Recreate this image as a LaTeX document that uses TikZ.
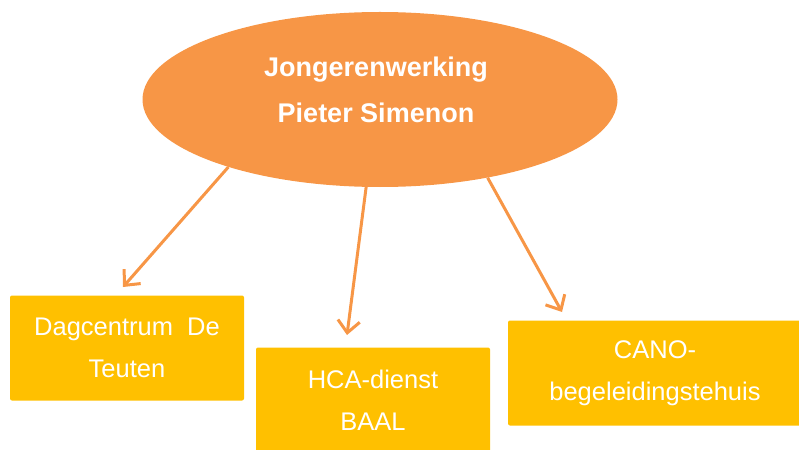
\documentclass[tikz,border=0pt]{standalone}
\usepackage{fontspec}
\setmainfont{Liberation Sans}
\usetikzlibrary{arrows.meta,shapes.geometric}
\definecolor{oranje}{HTML}{F79646}
\definecolor{geel}{HTML}{FFC000}
\tikzset{
  wolk/.style={ellipse,fill=oranje,draw=none,minimum width=475pt,minimum height=175pt,inner sep=0pt},
  titel/.style={align=center,text=white,font=\bfseries\fontsize{27}{46}\selectfont},
  blok/.style={rectangle,fill=geel,draw=none,rounded corners=2pt,align=center,text=white,
    minimum width=234pt,minimum height=105pt,inner sep=0pt,font=\fontsize{25.5}{42}\selectfont},
  pijl/.style={-{Straight Barb[length=12pt,width=22pt,line width=3pt]},draw=oranje,line width=3pt}
}

\begin{document}
\begin{tikzpicture}[x=1pt,y=-1pt]
\useasboundingbox (0,0) rectangle (799,449);
% ellips bovenaan
\node[wolk] (jw) at (380,99.5) {};
\node[titel] (naam) at (376,90) {Jongerenwerking\\Pieter Simenon};
% de drie blokken
\node[blok] (dag) at (127,348) {Dagcentrum\ \ De\\Teuten};
\node[blok] (hca) at (373,400) {HCA-dienst\\BAAL};
\node[blok,minimum width=294pt] (cano) at (655,373) {CANO-\\begeleidingstehuis};
% pijlpunten
\coordinate (p1) at (123,287);
\coordinate (p2) at (347,335);
\coordinate (p3) at (562,312);
\draw[pijl] (jw.204.3) -- (p1);
\draw[pijl] (jw.261.5) -- (p2);
\draw[pijl] (jw.324.8) -- (p3);
\end{tikzpicture}
\end{document}
